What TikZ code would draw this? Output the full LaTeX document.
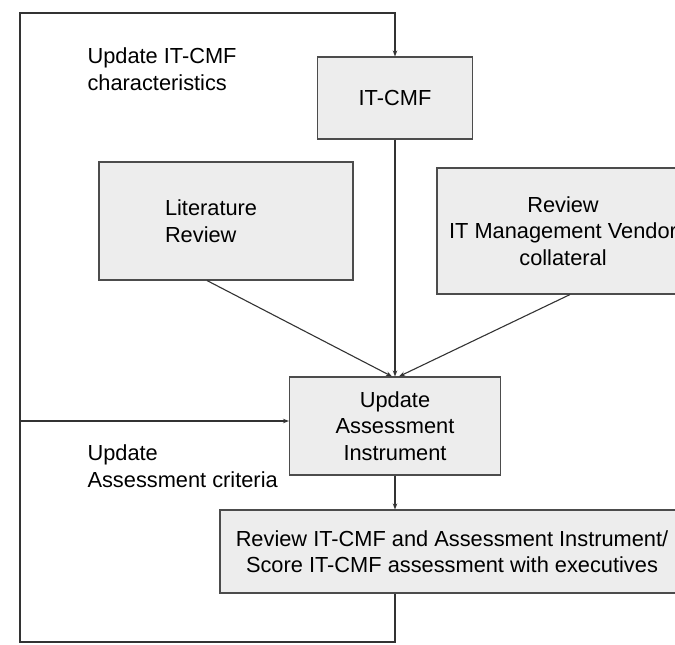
\documentclass[tikz,border=0pt]{standalone}
\usepackage{fontspec}
\setmainfont{Liberation Sans}
\usepackage{tikz}
\usetikzlibrary{arrows.meta}
\tikzset{every picture/.style={line width=1.1pt}}
\tikzset{procbox/.style={draw=black!70, fill=black!7, align=center, inner sep=0pt}}
\tikzset{flow/.style={draw=black!80, -{Stealth[length=6pt,width=4.5pt]}}}
\tikzset{note/.style={align=left, anchor=west, inner sep=0pt}}

\begin{document}
\begin{tikzpicture}[x=1pt,y=-1pt,font=\fontsize{21.8}{26.5}\selectfont]
	\useasboundingbox (0,0) rectangle (675,645);
	% boxes
	\node[procbox, minimum width=155, minimum height=82] (itcmf) at (395,98) {IT-CMF};
	\node[procbox, minimum width=254, minimum height=118, align=left, text width=122, inner xsep=66] (lit) at (226,221) {Literature\\Review};
	\node[procbox, minimum width=252, minimum height=126] (vendor) at (563,231) {Review\\IT Management Vendor\\collateral};
	\node[procbox, minimum width=211, minimum height=98] (update) at (395,426) {Update\\Assessment\\Instrument};
	\node[procbox, minimum width=464, minimum height=83] (review) at (452,551.5) {Review IT-CMF and Assessment Instrument/\\Score IT-CMF assessment with executives};
	%
	\node[note] (charText) at (87,69) {Update IT-CMF\\characteristics};
	\node[note] (critText) at (87,466) {Update\\Assessment criteria};
	%
	\coordinate (cornerBL) at (20,642);
	\coordinate (cornerTL) at (20,13);
	% connectors
	\draw[flow] (itcmf) -- (update);
	\draw[flow] ([xshift=-19pt]lit.south) -- ([xshift=-3pt]update.north);
	\draw[flow] ([xshift=7pt]vendor.south) -- ([xshift=4pt]update.north);
	\draw[flow] (update) -- (update |- review.north);
	\draw[flow] (update |- review.south) |- (cornerBL) -- (cornerTL) -| (itcmf.north);
	\draw[flow] (cornerBL |- update.west) ++(0,-5) -- ([yshift=5pt]update.west);
\end{tikzpicture}
\end{document}
